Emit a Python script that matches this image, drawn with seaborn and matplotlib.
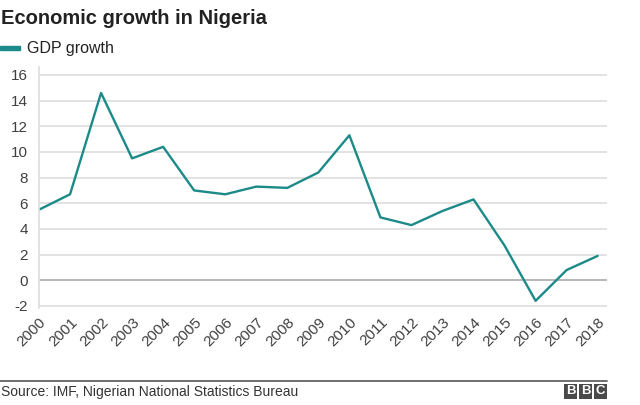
import matplotlib.pyplot as plt
import seaborn as sns
import pandas as pd
from matplotlib.patches import Rectangle

years = list(range(2000, 2019))
gdp_growth = [5.5, 6.7, 14.6, 9.5, 10.4, 7.0, 6.7, 7.3, 7.2, 8.4, 11.3,
              4.9, 4.3, 5.4, 6.3, 2.7, -1.6, 0.8, 1.9]
y_ticks = [-2, 0, 2, 4, 6, 8, 10, 12, 14, 16]

df = pd.DataFrame({"year": years, "growth": gdp_growth})

sns.set_style("white")
plt.rcParams['font.family'] = ['Liberation Sans', 'DejaVu Sans']

teal = "#1b8a88"
fig = plt.figure(figsize=(6.4, 4.05), dpi=100)
ax = fig.add_axes([39/640, 1 - 308/405, (607 - 39)/640, 241/405])

sns.lineplot(data=df, x="year", y="growth", color=teal, linewidth=1.7, ax=ax)

ax.set_xlim(2000, 2018.3)
ax.set_ylim(-2.16, 16.62)
ax.set_yticks(y_ticks)
ax.set_yticklabels([str(t) for t in y_ticks], fontsize=11, color="#404040")
ax.set_xticks(years)
ax.set_xticklabels([str(y) for y in years], rotation=45, ha="right",
                   rotation_mode="anchor", fontsize=11, color="#404040")
ax.tick_params(axis="y", length=0, pad=8)
ax.tick_params(axis="x", length=0, pad=5)
ax.set_xlabel("")
ax.set_ylabel("")

for t in y_ticks:
    ax.axhline(t, color="#aaaaaa" if t == 0 else "#dddddd", lw=1.2, zorder=0)
for s in ["top", "right", "bottom"]:
    ax.spines[s].set_visible(False)
ax.spines["left"].set_color("#dddddd")
ax.spines["left"].set_linewidth(1.2)

fig.text(1/640, 1 - 18/405, "Economic growth in Nigeria", fontsize=14.5,
         fontweight="bold", color="#222222", va="center")
fig.add_artist(Rectangle((0, 1 - 50/405), 20/640, 4/405, color=teal,
                         transform=fig.transFigure))
fig.text(27/640, 1 - 48/405, "GDP growth", fontsize=11.5, color="#222222", va="center")

fig.add_artist(plt.Line2D([0, 607/640], [1 - 381/405, 1 - 381/405],
                          color="#555555", lw=1.2, transform=fig.transFigure))
fig.text(1/640, 1 - 392/405, "Source: IMF, Nigerian National Statistics Bureau",
         fontsize=10, color="#333333", va="center")
for i, ch in enumerate("BBC"):
    x0 = 564/640 + i * 15/640
    fig.add_artist(Rectangle((x0, 1 - 399/405), 13/640, 15/405, facecolor="#4a4a4a",
                             edgecolor="none", linewidth=0,
                             transform=fig.transFigure))
    fig.text(x0 + 6.5/640, 1 - 391.5/405, ch, fontsize=9.5, fontweight="bold",
             color="white", ha="center", va="center")

plt.savefig("out.png", dpi=100)
